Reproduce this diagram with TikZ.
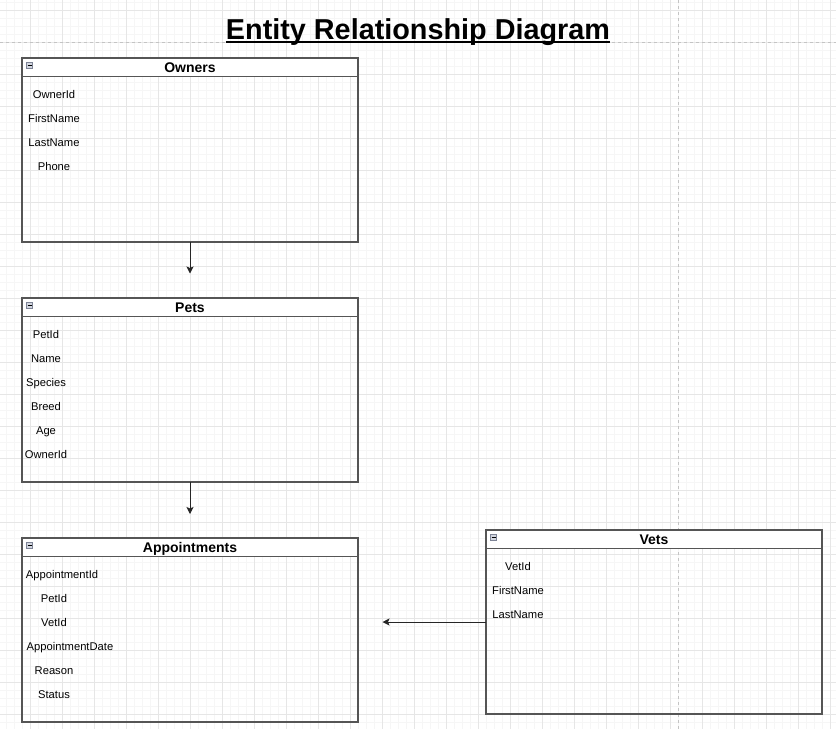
\documentclass[tikz,border=0pt]{standalone}
\usepackage{fontspec}
\setmainfont{Liberation Sans}
\usetikzlibrary{arrows.meta}
\definecolor{gridminor}{HTML}{F6F6F6}
\definecolor{gridmajor}{HTML}{E6E6E6}
\definecolor{pagebreak}{HTML}{C4C4C4}
\definecolor{boxline}{HTML}{555555}
\definecolor{iconfill}{HTML}{D2D6E0}
\definecolor{iconline}{HTML}{7E8496}
\tikzset{
  entity/.style={draw=boxline, line width=1.2pt, rectangle, inner sep=0pt, outer sep=0pt, anchor=north west},
  header/.style={fill=white, draw=boxline, line width=1.2pt},
  headtitle/.style={anchor=base, inner sep=0pt, font=\bfseries\fontsize{14}{16}\selectfont},
  field/.style={anchor=base, inner sep=0pt, font=\fontsize{11.2}{13}\selectfont},
  conn/.style={draw=black!85, line width=1pt, -{Stealth[length=7pt,width=7pt,inset=1.5pt]}},
  icon/.style={fill=iconfill, draw=iconline, line width=0.8pt},
}
\begin{document}
\begin{tikzpicture}[x=1pt,y=-1pt]
\useasboundingbox (0,0) rectangle (836,729);
\fill[white] (0,0) rectangle (836,729);
% grid
\foreach \x in {6,14,...,830} \draw[gridminor, line width=0.8pt] (\x,0) -- (\x,729);
\foreach \y in {2,10,...,722} \draw[gridminor, line width=0.8pt] (0,\y) -- (836,\y);
\foreach \x in {30,62,...,830} \draw[gridmajor, line width=0.9pt] (\x,0) -- (\x,729);
\foreach \y in {10,42,...,714} \draw[gridmajor, line width=0.9pt] (0,\y) -- (836,\y);
% page breaks
\draw[pagebreak, line width=1pt, dash pattern=on 3pt off 3pt] (0,42) -- (836,42);
\draw[pagebreak, line width=1pt, dash pattern=on 3pt off 3pt] (678,0) -- (678,729);

% title
\node[anchor=base, inner sep=0pt, font=\bfseries\fontsize{28.8}{32}\selectfont] (title) at (418,39.5) {Entity Relationship Diagram};
\draw[black, line width=2pt] ([yshift=-2pt]title.base west) -- ([yshift=-2pt]title.base east);

% Owners
\node[entity, minimum width=336pt, minimum height=184pt] (owners) at (22,58) {};
\draw[header] (22,58) rectangle (358,76.5);
\draw[icon] (26.5,62.5) rectangle (32.5,68.5);
\draw[black, line width=1pt] (27.5,65.5) -- (31.5,65.5);
\node[headtitle] (ownersT) at (190,72) {Owners};
\node[field] (o1) at (54,98) {OwnerId};
\node[field] (o2) at (54,122) {FirstName};
\node[field] (o3) at (54,146) {LastName};
\node[field] (o4) at (54,170) {Phone};

% Pets
\node[entity, minimum width=336pt, minimum height=184pt] (pets) at (22,298) {};
\draw[header] (22,298) rectangle (358,316.5);
\draw[icon] (26.5,302.5) rectangle (32.5,308.5);
\draw[black, line width=1pt] (27.5,305.5) -- (31.5,305.5);
\node[headtitle] (petsT) at (190,312) {Pets};
\node[field] (p1) at (46,338) {PetId};
\node[field] (p2) at (46,362) {Name};
\node[field] (p3) at (46,386) {Species};
\node[field] (p4) at (46,410) {Breed};
\node[field] (p5) at (46,434) {Age};
\node[field] (p6) at (46,458) {OwnerId};

% Appointments
\node[entity, minimum width=336pt, minimum height=184pt] (appts) at (22,538) {};
\draw[header] (22,538) rectangle (358,556.5);
\draw[icon] (26.5,542.5) rectangle (32.5,548.5);
\draw[black, line width=1pt] (27.5,545.5) -- (31.5,545.5);
\node[headtitle] (apptsT) at (190,552) {Appointments};
\node[field] (a1) at (62,578) {AppointmentId};
\node[field] (a2) at (54,602) {PetId};
\node[field] (a3) at (54,626) {VetId};
\node[field] (a4) at (70,650) {AppointmentDate};
\node[field] (a5) at (54,674) {Reason};
\node[field] (a6) at (54,698) {Status};

% Vets
\node[entity, minimum width=336pt, minimum height=184pt] (vets) at (486,530) {};
\draw[header] (486,530) rectangle (822,548.5);
\draw[icon] (490.5,534.5) rectangle (496.5,540.5);
\draw[black, line width=1pt] (491.5,537.5) -- (495.5,537.5);
\node[headtitle] (vetsT) at (654,544.3) {Vets};
\node[field] (v1) at (518,570.3) {VetId};
\node[field] (v2) at (518,594.3) {FirstName};
\node[field] (v3) at (518,618.3) {LastName};

% connectors
\coordinate (end1) at (190,273.5);
\coordinate (end2) at (190,514);
\coordinate (end3) at (382.5,622);
\draw[conn] (owners.south) -- (end1);
\draw[conn] (pets.south) -- (end2);
\draw[conn] (vets.west) -- (end3);
\end{tikzpicture}
\end{document}
